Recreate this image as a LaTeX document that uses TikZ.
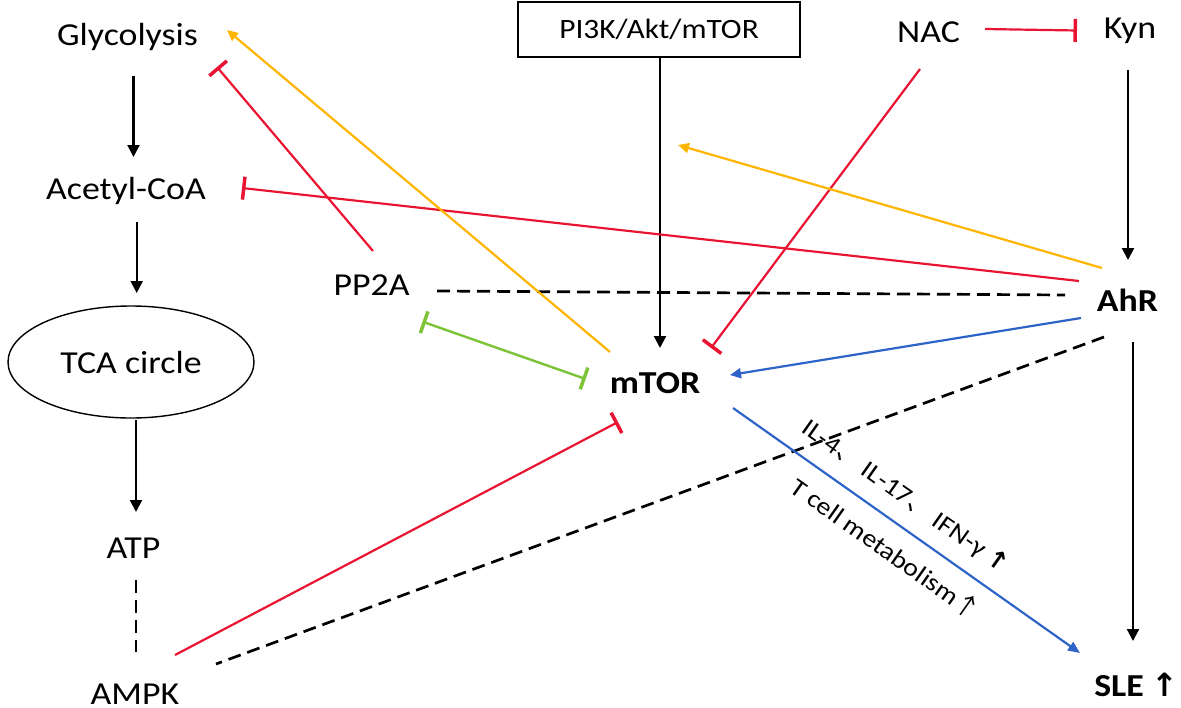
\documentclass[tikz,border=0pt]{standalone}
\usepackage{fontspec}
\setmainfont{Carlito}[FakeStretch=1.12]
\newfontfamily\cjk{Noto Sans CJK SC}
\newfontfamily\dv{DejaVu Sans}
\usetikzlibrary{arrows.meta,shapes.geometric}
\definecolor{cred}{RGB}{232,20,50}
\definecolor{cyel}{RGB}{255,180,0}
\definecolor{cblue}{RGB}{46,100,200}
\definecolor{cgreen}{RGB}{125,195,55}
\tikzset{
  lbl/.style={anchor=base,inner sep=0pt,font=\fontsize{32}{38}\selectfont},
  blbl/.style={lbl,font=\fontsize{32}{38}\selectfont\bfseries},
  blkarrow/.style={line width=2.2pt,-{Triangle[length=12pt,width=12pt]}},
  dashline/.style={line width=2.7pt,dash pattern=on 13pt off 7pt},
  inhib/.style={line width=2.2pt,-{Bar[width=23pt,line width=3.5pt]}},
  act/.style={line width=2.2pt,-{Triangle[length=11pt,width=10pt]}},
  small/.style={inner sep=0pt,font=\fontsize{25}{30}\selectfont}
}
\begin{document}
\begin{tikzpicture}[x=1pt,y=-1pt]
\useasboundingbox (0,0) rectangle (1181,707);
% nodes
\node[lbl] (gly) at (127.5,45.5) {Glycolysis};
\node[lbl] (acc) at (126,199) {Acetyl-CoA};
\node[draw,ellipse,line width=1.4pt,minimum width=246pt,minimum height=112pt,inner sep=0pt,font=\fontsize{32}{38}\selectfont] (tca) at (131,362) {TCA circle};
\node[lbl] (atp) at (133.5,558) {ATP};
\node[lbl] (ampk) at (135,704) {AMPK};
\node[draw,line width=2.5pt,minimum width=282pt,minimum height=55pt,inner sep=0pt,font=\fontsize{28}{34}\selectfont] (pi3k) at (659,29.5) {PI3K/Akt/mTOR};
\node[lbl] (nac) at (928.5,42.7) {NAC};
\node[lbl] (kyn) at (1130,38) {Kyn};
\node[lbl] (pp2a) at (371.5,295) {PP2A};
\node[blbl] (mtor) at (655,393.3) {mTOR};
\node[blbl] (ahr) at (1127.5,311.7) {AhR};
\node[blbl] (sle) at (1136.5,696.7) {SLE {\dv\bfseries ↑}};
% endpoint coordinates
\coordinate (glyB) at (133.5,76);   \coordinate (accT) at (133.5,157);
\coordinate (accB) at (136.7,222);  \coordinate (tcaT) at (136.7,293);
\coordinate (tcaB) at (136,420);    \coordinate (atpT) at (136,512);
\coordinate (atpB) at (136,580);    \coordinate (ampkT) at (136,652);
\coordinate (pi3kB) at (660,57);    \coordinate (mtorT) at (660,348);
\coordinate (nacR) at (985,29);     \coordinate (kynL) at (1077,30.5);
\coordinate (kynB) at (1128,70);    \coordinate (ahrT) at (1128,260);
\coordinate (ahrB) at (1133,342);   \coordinate (sleT) at (1133,641);
\coordinate (nacB) at (920,69);     \coordinate (mtorTR) at (711,348);
\coordinate (ahrY) at (1102,268);   \coordinate (yfree) at (678,145);
\coordinate (ahrR) at (1079,281);   \coordinate (accR) at (242,188);
\coordinate (mtorY) at (610,352);   \coordinate (glyR) at (227,30);
\coordinate (pp2aT) at (373,251);   \coordinate (glyBR) at (217,67);
\coordinate (pp2aR) at (437,291);   \coordinate (ahrL) at (1065,295);
\coordinate (pp2aBR) at (422.5,321.7); \coordinate (mtorL) at (585.7,379);
\coordinate (ahrBL) at (1081,318);  \coordinate (mtorR) at (730,375);
\coordinate (ahrD) at (1104,337);   \coordinate (ampkR) at (216,664);
\coordinate (ampkRR) at (175,655);  \coordinate (mtorBL) at (618,422);
\coordinate (mtorBR) at (733,408);  \coordinate (sleL) at (1080,653);
% connectors
\draw[blkarrow] (glyB) -- (accT);
\draw[blkarrow] (accB) -- (tcaT);
\draw[blkarrow] (tcaB) -- (atpT);
\draw[dashline] (atpB) -- (ampkT);
\draw[blkarrow] (pi3kB) -- (mtorT);
\draw[blkarrow] (kynB) -- (ahrT);
\draw[blkarrow] (ahrB) -- (sleT);
\draw[dashline] (pp2aR) -- (ahrL);
\draw[dashline] (ahrD) -- (ampkR);
\draw[inhib,cred] (nacR) -- (kynL);
\draw[inhib,cred] (nacB) -- (mtorTR);
\draw[inhib,cred] (ahrR) -- (accR);
\draw[inhib,cred] (pp2aT) -- (glyBR);
\draw[inhib,cred] (ampkRR) -- (mtorBL);
\draw[act,cyel] (ahrY) -- (yfree);
\draw[act,cyel] (mtorY) -- (glyR);
\draw[line width=2.4pt,cgreen,{Bar[width=23pt,line width=3.5pt]}-{Bar[width=23pt,line width=3.5pt]}] (pp2aBR) -- (mtorL);
\draw[act,cblue] (ahrBL) -- (mtorR);
\draw[line width=2.2pt,cblue,-{Triangle[length=12pt,width=10pt]}] (mtorBR) -- (sleL);
% labels on the blue connector
\node[small,rotate=-35.2] (cyt) at (905,497) {IL-4{\cjk 、} IL-17{\cjk 、} IFN-γ {\dv\bfseries ↑}};
\node[small,rotate=-35.2] (tcm) at (886,548) {T cell metabolism{\cjk ↑}};
\end{tikzpicture}
\end{document}
